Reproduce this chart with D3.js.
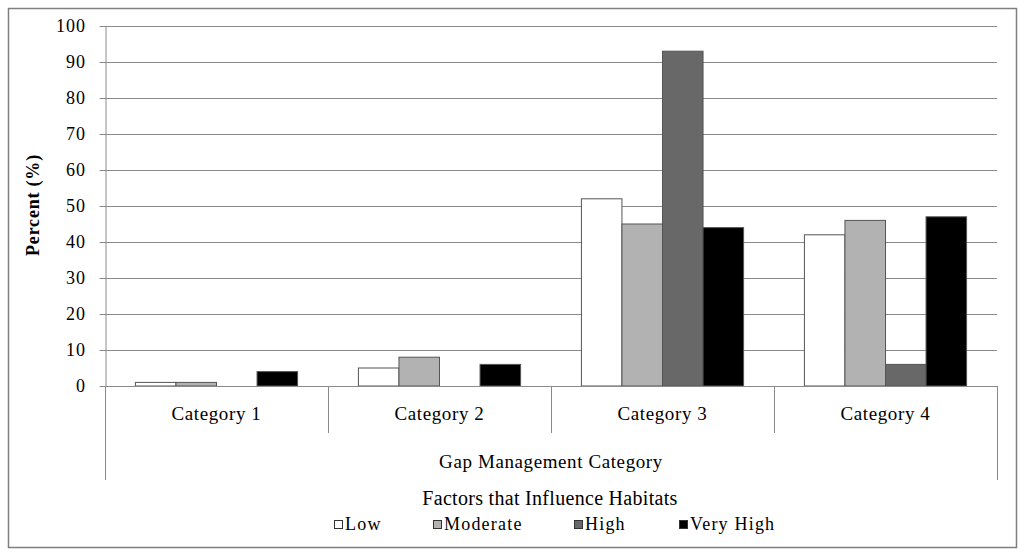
<!DOCTYPE html>
<html><head><meta charset="utf-8">
<script src="https://cdn.jsdelivr.net/npm/d3@7"></script>
</head><body style="margin:0;background:#fff"><svg id="c" width="1024" height="555" style="display:block"></svg>
<script>
const categories = ["Category 1","Category 2","Category 3","Category 4"];
const seriesNames = ["Low","Moderate","High","Very High"];
const lowVals = [1,5,52,42];
const moderateVals = [1,8,45,46];
const highVals = [0,0,93,6];
const veryHighVals = [4,6,44,47];
const yTicks = [0,10,20,30,40,50,60,70,80,90,100];
const colors = ["#ffffff","#b2b2b2","#686868","#000000"];
const series = [lowVals, moderateVals, highVals, veryHighVals];
const FF = "Liberation Serif";

const svg = d3.select("#c").attr("font-family",FF);
const L = 105, R = 997, T = 26, B = 386;
svg.append("rect").attr("x",8.5).attr("y",8.5).attr("width",1008).attr("height",539)
  .attr("fill","none").attr("stroke","#7f7f7f").attr("stroke-width",1.5);

const x0 = d3.scaleBand().domain(categories).range([L,R]).paddingInner(0).paddingOuter(0);
const x1 = d3.scaleBand().domain(seriesNames).range([0,x0.bandwidth()]).paddingInner(0).paddingOuter(0.75);
const y = d3.scaleLinear().domain([0,100]).range([B,T]);

svg.append("g").selectAll("line").data(yTicks.filter(d=>d>0)).join("line")
  .attr("x1",L).attr("x2",R).attr("y1",d=>Math.round(y(d))+0.5).attr("y2",d=>Math.round(y(d))+0.5)
  .attr("stroke","#8a8a8a").attr("stroke-width",1);

const ya = svg.append("g").attr("transform",`translate(${L+0.5},0)`)
  .call(d3.axisLeft(y).tickValues(yTicks).tickSize(6).tickSizeOuter(0).tickPadding(13.5));
ya.attr("font-family",FF).attr("font-size",18);
ya.select(".domain").attr("stroke","#8a8a8a");
ya.selectAll(".tick line").attr("stroke","#8a8a8a");
ya.selectAll(".tick text").attr("font-family",FF).attr("font-size",18).attr("letter-spacing",1).attr("fill","#000");

const g = svg.append("g");
categories.forEach((c,ci)=>{
  series.forEach((vals,si)=>{
    const v = vals[ci];
    if (v<=0) return;
    g.append("rect")
      .attr("x", x0(c)+x1(seriesNames[si]))
      .attr("y", y(v))
      .attr("width", x1.bandwidth())
      .attr("height", y(0)-y(v))
      .attr("fill", colors[si]).attr("stroke","#555").attr("stroke-width",1);
  });
});

const tb = svg.append("g").attr("stroke","#8a8a8a").attr("stroke-width",1);
tb.append("line").attr("x1",L).attr("x2",R).attr("y1",B+0.5).attr("y2",B+0.5);
categories.forEach((c,i)=>{
  if(i>0) tb.append("line").attr("x1",Math.round(x0(c))+0.5).attr("x2",Math.round(x0(c))+0.5).attr("y1",B).attr("y2",433);
});
tb.append("line").attr("x1",L+0.5).attr("x2",L+0.5).attr("y1",B).attr("y2",480);
tb.append("line").attr("x1",R+0.5).attr("x2",R+0.5).attr("y1",B).attr("y2",480);

svg.append("g").selectAll("text").data(categories).join("text")
  .attr("x",d=>x0(d)+x0.bandwidth()/2).attr("y",420).attr("text-anchor","middle")
  .attr("font-family",FF).attr("font-size",19).attr("letter-spacing",0.6).text(d=>d);

svg.append("text").attr("x",(L+R)/2).attr("y",468).attr("text-anchor","middle")
  .attr("font-family",FF).attr("font-size",19).attr("letter-spacing",0.6).text("Gap Management Category");

svg.append("text").attr("transform","translate(39,205) rotate(-90)").attr("text-anchor","middle")
  .attr("font-family",FF).attr("font-size",18).attr("letter-spacing",0.8).attr("font-weight","bold").text("Percent (%)");

svg.append("text").attr("x",550).attr("y",505).attr("text-anchor","middle")
  .attr("font-family",FF).attr("font-size",20).attr("letter-spacing",0.3).text("Factors that Influence Habitats");
const legX = [334, 433, 574, 679];
const lg = svg.append("g").selectAll("g").data(seriesNames).join("g")
  .attr("transform",(d,i)=>`translate(${legX[i]},0)`);
lg.append("rect").attr("x",0.5).attr("y",520.5).attr("width",8).attr("height",8)
  .attr("fill",(d,i)=>colors[i]).attr("stroke","#333").attr("stroke-width",1);
lg.append("text").attr("x",11).attr("y",530).attr("font-family",FF).attr("font-size",18).attr("letter-spacing",1.2).text(d=>d);
</script></body></html>
